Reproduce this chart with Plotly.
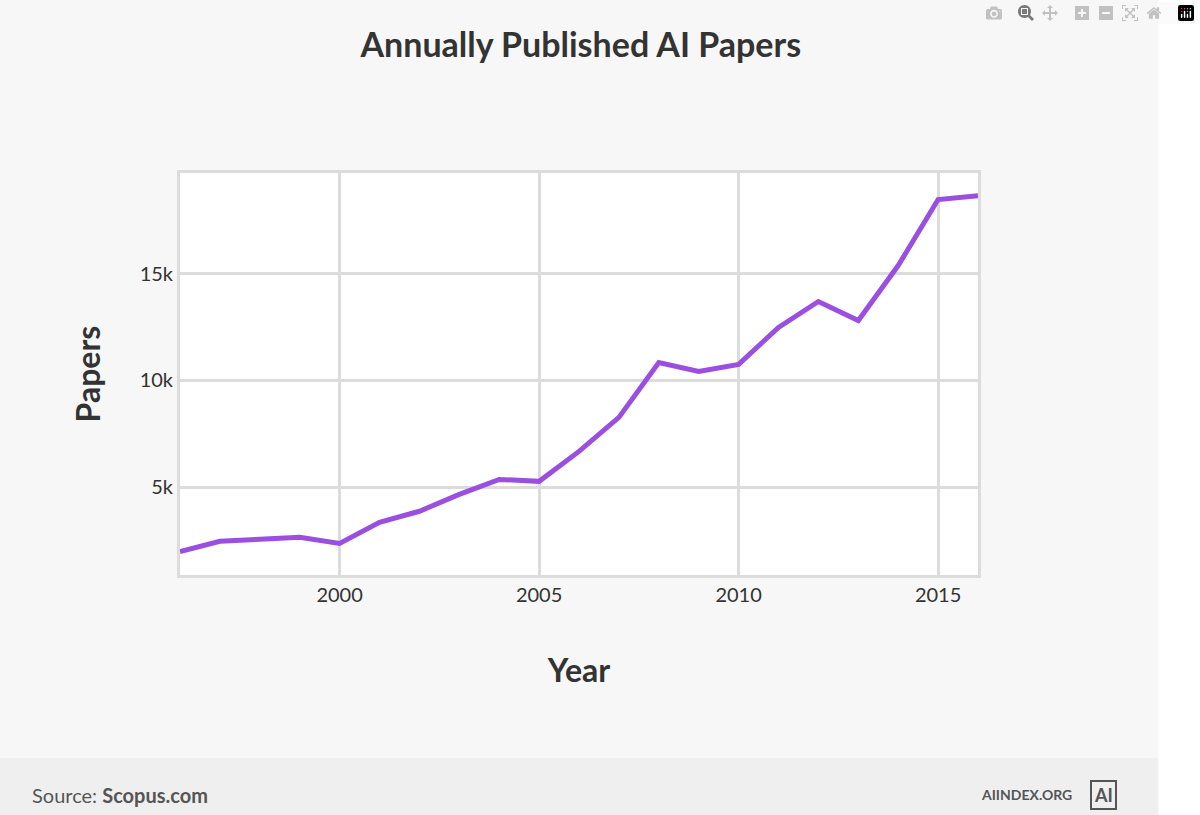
import plotly.graph_objects as go

years = list(range(1996, 2017))
papers = [2000, 2480, 2570, 2660, 2380, 3360, 3880, 4670, 5370, 5280, 6680,
          8270, 10840, 10420, 10750, 12480, 13690, 12800, 15370, 18460, 18640]
ytick_vals = [5000, 10000, 15000]
ytick_text = ["5k", "10k", "15k"]
xtick_vals = [2000, 2005, 2010, 2015]

fig = go.Figure(go.Scatter(x=years, y=papers, mode="lines",
                           line=dict(color="#9b4fe0", width=5), hoverinfo="x+y"))

grid = "#dcdcdc"
fig.update_layout(
    width=1200, height=815,
    paper_bgcolor="#f7f7f7", plot_bgcolor="white",
    margin=dict(l=180, r=222, t=173, b=240),
    font=dict(family="Lato, Open Sans, sans-serif", color="#333"),
    title=dict(text="<b>Annually Published AI Papers</b>", x=0.484, xanchor="center",
               y=0.945, yanchor="middle", font=dict(size=34, color="#333")),
    showlegend=False,
    xaxis=dict(range=[1996, 2016], tickvals=xtick_vals, showgrid=True, gridcolor=grid,
               gridwidth=3, showline=True, linecolor=grid, linewidth=3, mirror=True,
               zeroline=False, tickfont=dict(size=20, color="#333"), ticks="", ticklen=8,
               title=dict(text="<b>Year</b>", font=dict(size=32, color="#333"), standoff=55)),
    yaxis=dict(range=[900, 19700], tickvals=ytick_vals, ticktext=ytick_text, showgrid=True,
               gridcolor=grid, gridwidth=3, showline=True, linecolor=grid, linewidth=3,
               mirror=True, zeroline=False, tickfont=dict(size=20, color="#333"),
               title=dict(text="<b>Papers</b>", font=dict(size=32, color="#333"), standoff=30)),
    shapes=[dict(type="rect", xref="paper", yref="paper", x0=-0.3, x1=1.3,
                 y0=-0.6, y1=-0.455, fillcolor="#efefef", line=dict(width=0), layer="below"),
            dict(type="rect", xref="paper", yref="paper", x0=1.226, x1=1.3,
                 y0=-0.6, y1=1.45, fillcolor="white", line=dict(width=0), layer="below")],
    annotations=[
        dict(text="Source: <b>Scopus.com</b>", xref="paper", yref="paper", x=-0.188, y=-0.547,
             xanchor="left", yanchor="middle", showarrow=False, font=dict(size=20, color="#555")),
        dict(text="<b>AIINDEX.ORG</b>", xref="paper", yref="paper", x=1.12, y=-0.547,
             xanchor="right", yanchor="middle", showarrow=False, font=dict(size=14, color="#555")),
        dict(text="<b>AI</b>", xref="paper", yref="paper", x=1.157, y=-0.547,
             xanchor="center", yanchor="middle", showarrow=False, borderwidth=2,
             bordercolor="#555", borderpad=2, font=dict(size=18, color="#555")),
    ],
)
fig.write_html("out.html", post_script="document.body.style.margin='0';")
